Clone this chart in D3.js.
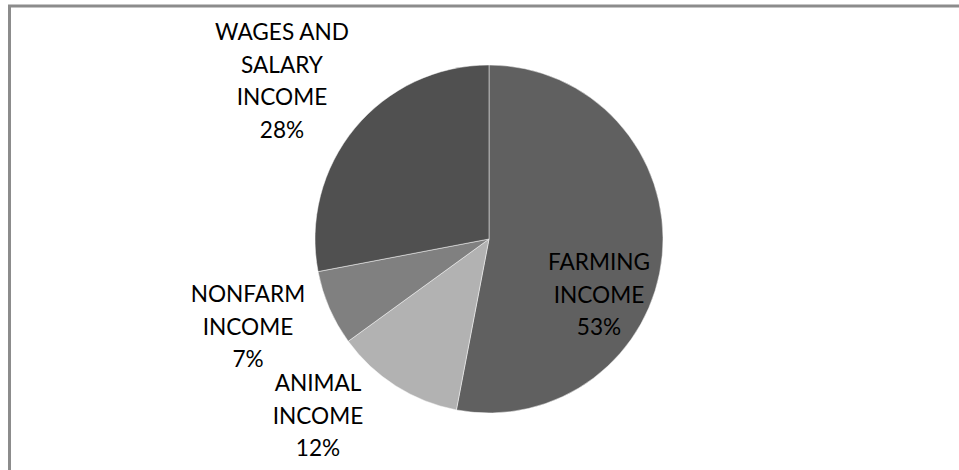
<!DOCTYPE html>
<html><head><meta charset="utf-8">
<script src="https://cdn.jsdelivr.net/npm/d3@7"></script>
<style>html,body{margin:0;padding:0;background:#fff;}svg{display:block;}</style>
</head><body>
<svg id="chart" width="959" height="470"></svg>
<script>
const categories = ["FARMING INCOME", "ANIMAL INCOME", "NONFARM INCOME", "WAGES AND SALARY INCOME"];
const values = [53, 12, 7, 28];
const labelLines = [["FARMING", "INCOME"], ["ANIMAL", "INCOME"], ["NONFARM", "INCOME"], ["WAGES AND", "SALARY", "INCOME"]];
const colors = ["#606060", "#b2b2b2", "#808080", "#505050"];

const svg = d3.select("#chart");
svg.append("rect").attr("x", 9.5).attr("y", 6).attr("width", 1000).attr("height", 500)
  .attr("fill", "#fff").attr("stroke", "#8c8c8c").attr("stroke-width", 3);

const cx = 489, cy = 239, R = 174;
const data = categories.map((c, i) => ({cat: c, value: values[i], lines: labelLines[i], color: colors[i]}));
const pie = d3.pie().value(d => d.value).sort(null);
const arc = d3.arc().innerRadius(0).outerRadius(R);
const g = svg.append("g").attr("transform", `translate(${cx},${cy})`);
const arcs = pie(data);
g.selectAll("path").data(arcs).join("path")
  .attr("d", arc).attr("fill", d => d.data.color)
  .attr("stroke", "#ffffff").attr("stroke-width", 0.8).attr("stroke-opacity", 0.6);

// label anchor positions (center x, first baseline y) relative to pie center
const labelPos = {
  "FARMING INCOME": [110, 31],
  "ANIMAL INCOME": [-171, 152],
  "NONFARM INCOME": [-241, 63],
  "WAGES AND SALARY INCOME": [-207, -199]
};
const lh = 32.5;
arcs.forEach(a => {
  const p = labelPos[a.data.cat];
  const t = g.append("text").attr("text-anchor", "middle")
    .attr("font-family", "Lato, 'Open Sans', sans-serif").attr("font-size", 22.6).attr("fill", "#000");
  const lines = a.data.lines.concat([Math.round((a.endAngle - a.startAngle) / (2 * Math.PI) * 100) + "%"]);
  lines.forEach((ln, i) => {
    t.append("tspan").attr("x", p[0]).attr("y", p[1] + i * lh).text(ln);
  });
});
</script>
</body></html>
